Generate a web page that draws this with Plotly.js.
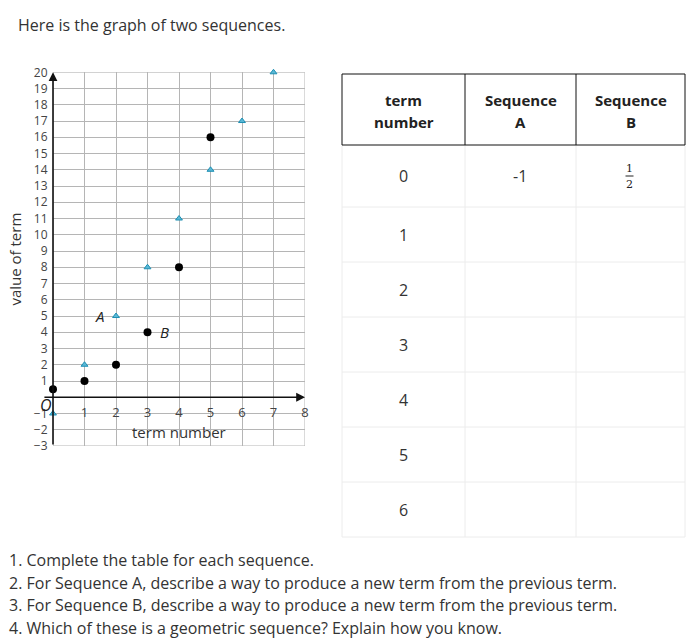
<!DOCTYPE html>
<html>
<head>
<meta charset="utf-8">
<script src="https://cdn.plot.ly/plotly-3.0.1.min.js"></script>
<style>html,body{margin:0;padding:0;background:#fff;}#chart{width:687px;height:642px;}</style>
</head>
<body>
<div id="chart"></div>
<script>
// ---- data ----
const termA = [0, 1, 2, 3, 4, 5, 6, 7];
const seqA = [-1, 2, 5, 8, 11, 14, 17, 20];
const termB = [0, 1, 2, 3, 4, 5];
const seqB = [0.5, 1, 2, 4, 8, 16];
const yTickVals = [-3, -2, -1, 1, 2, 3, 4, 5, 6, 7, 8, 9, 10, 11, 12, 13, 14, 15, 16, 17, 18, 19, 20];
const yTickText = ['\u22123', '\u22122', '\u22121', '1', '2', '3', '4', '5', '6', '7', '8', '9', '10', '11', '12', '13', '14', '15', '16', '17', '18', '19', '20'];
const xTickVals = [1, 2, 3, 4, 5, 6, 7, 8];
const xTickText = ['1', '2', '3', '4', '5', '6', '7', '8'];
const tableHeadLine1 = ['term', 'Sequence', 'Sequence'];
const tableHeadLine2 = ['number', 'A', 'B'];
const tableTerms = ['0', '1', '2', '3', '4', '5', '6'];
const tableSeqA = ['-1', '', '', '', '', '', ''];
const tableSeqB = [['1', '2'], null, null, null, null, null, null]; // fraction numerator/denominator
const heading = 'Here is the graph of two sequences.';
const questions = [
  '1. Complete the table for each sequence.',
  '2. For Sequence A, describe a way to produce a new term from the previous term.',
  '3. For Sequence B, describe a way to produce a new term from the previous term.',
  '4. Which of these is a geometric sequence? Explain how you know.'
];

// ---- layout helpers ----
const W = 687, H = 642;
const px = x => x / W;
const py = y => 1 - y / H;
const FONT = 'Open Sans, Noto Sans, sans-serif';
const TXT = '#333';

const traces = [
  {x: termA, y: seqA, type: 'scatter', mode: 'markers', name: 'A',
   marker: {symbol: 'triangle-up', size: 6, color: '#5ab8d6', line: {color: '#1d8fb3', width: 1}},
   cliponaxis: false, hoverinfo: 'x+y'},
  {x: termB, y: seqB, type: 'scatter', mode: 'markers', name: 'B',
   marker: {symbol: 'circle', size: 8, color: '#000'},
   cliponaxis: false, hoverinfo: 'x+y'}
];

const annotations = [];
const shapes = [];
function paperText(x, y, text, font, xanchor) {
  annotations.push({x: px(x), y: py(y), xref: 'paper', yref: 'paper', xanchor: xanchor || 'center',
    yanchor: 'middle', text: text, showarrow: false, font: font});
}

// axes arrows
annotations.push({x: 8, y: 0, ax: -0.32, ay: 0, xref: 'x', yref: 'y', axref: 'x', ayref: 'y',
  text: '', showarrow: true, arrowhead: 2, arrowsize: 1.1, arrowwidth: 1.6, arrowcolor: '#111', standoff: 0});
annotations.push({x: 0, y: 20, ax: 0, ay: -3, xref: 'x', yref: 'y', axref: 'x', ayref: 'y',
  text: '', showarrow: true, arrowhead: 2, arrowsize: 1.1, arrowwidth: 1.6, arrowcolor: '#111', standoff: 0});
// origin label
paperText(46, 405, '<i>O</i>', {family: FONT, size: 16, color: '#222'});
// series labels
annotations.push({x: 1.47, y: 5.0, xref: 'x', yref: 'y', xanchor: 'center', yanchor: 'middle', text: '<i>A</i>', showarrow: false,
  font: {family: FONT, size: 15, color: '#222'}});
annotations.push({x: 3.53, y: 4.0, xref: 'x', yref: 'y', xanchor: 'center', yanchor: 'middle', text: '<i>B</i>', showarrow: false,
  font: {family: FONT, size: 15, color: '#222'}});
// x axis title
annotations.push({x: 4, y: -2.15, xref: 'x', yref: 'y', xanchor: 'center', yanchor: 'middle', text: 'term number', showarrow: false,
  font: {family: FONT, size: 15, color: TXT}});

// heading and questions
paperText(16, 25, heading, {family: FONT, size: 16, color: TXT}, 'left');
const qY = [560, 582.5, 605, 627.5];
questions.forEach((q, i) => paperText(7, qY[i], q, {family: FONT, size: 16, color: TXT}, 'left'));

// table
const colEdges = [342, 465, 576, 685];
const headTop = 74, headBot = 145;
const rowEdges = [145, 207, 262, 317, 372, 427, 482, 537];
const lightLine = {color: '#ececec', width: 1};
rowEdges.slice(1).forEach(y => shapes.push({type: 'line', xref: 'paper', yref: 'paper',
  x0: px(colEdges[0]), x1: px(colEdges[3]), y0: py(y), y1: py(y), line: lightLine}));
colEdges.forEach(x => shapes.push({type: 'line', xref: 'paper', yref: 'paper',
  x0: px(x), x1: px(x), y0: py(headBot), y1: py(rowEdges[rowEdges.length - 1]), line: lightLine}));
shapes.push({type: 'rect', xref: 'paper', yref: 'paper', x0: px(colEdges[0]), x1: px(colEdges[3]),
  y0: py(headBot), y1: py(headTop), line: {color: '#111', width: 1}});
[colEdges[1], colEdges[2]].forEach(x => shapes.push({type: 'line', xref: 'paper', yref: 'paper',
  x0: px(x), x1: px(x), y0: py(headBot), y1: py(headTop), line: {color: '#111', width: 1}}));
const colCenters = [0, 1, 2].map(i => (colEdges[i] + colEdges[i + 1]) / 2);
for (let c = 0; c < 3; c++) {
  paperText(colCenters[c], 100, '<b>' + tableHeadLine1[c] + '</b>', {family: FONT, size: 15, color: '#222'});
  paperText(colCenters[c], 122, '<b>' + tableHeadLine2[c] + '</b>', {family: FONT, size: 15, color: '#222'});
}
for (let r = 0; r < tableTerms.length; r++) {
  const yc = (rowEdges[r] + rowEdges[r + 1]) / 2;
  paperText(colCenters[0], yc, tableTerms[r], {family: FONT, size: 16, color: TXT});
  if (tableSeqA[r]) paperText(colCenters[1] - 1, yc, tableSeqA[r], {family: FONT, size: 16, color: TXT});
  if (tableSeqB[r]) {
    const [num, den] = tableSeqB[r];
    paperText(colCenters[2] - 1, yc - 7.5, num, {family: 'DejaVu Serif, serif', size: 11, color: '#222'});
    paperText(colCenters[2] - 1, yc + 8, den, {family: 'DejaVu Serif, serif', size: 11, color: '#222'});
    shapes.push({type: 'line', xref: 'paper', yref: 'paper', x0: px(colCenters[2] - 5), x1: px(colCenters[2] + 3),
      y0: py(yc), y1: py(yc), line: {color: '#222', width: 1}});
  }
}

const layout = {
  width: W, height: H,
  margin: {l: 0, r: 0, t: 0, b: 0},
  paper_bgcolor: '#fff', plot_bgcolor: '#fff',
  showlegend: false,
  font: {family: FONT, color: TXT},
  xaxis: {
    domain: [px(53), px(305)], range: [0, 8], anchor: 'free', position: py(397),
    tickvals: xTickVals, ticktext: xTickText, ticks: 'outside', ticklen: 3, tickcolor: 'rgba(0,0,0,0)',
    tickfont: {family: FONT, size: 13, color: '#444'},
    showgrid: true, gridcolor: '#b5b5b5', gridwidth: 1, zeroline: false, showline: false,
    fixedrange: true
  },
  yaxis: {
    domain: [py(446), py(72.3)], range: [-3, 20],
    tickvals: yTickVals, ticktext: yTickText, ticks: 'outside', ticklen: 2, tickcolor: 'rgba(0,0,0,0)',
    tickfont: {family: FONT, size: 12, color: '#444'},
    showgrid: true, gridcolor: '#b5b5b5', gridwidth: 1, zeroline: false, showline: false,
    title: {text: 'value of term', font: {family: FONT, size: 15, color: TXT}, standoff: 8},
    fixedrange: true
  },
  annotations: annotations,
  shapes: shapes
};
shapes.push({type: 'rect', xref: 'x', yref: 'y', x0: 0, x1: 8, y0: -3, y1: 20, line: {color: '#b5b5b5', width: 1}, layer: 'below'});

Plotly.newPlot('chart', traces, layout, {displayModeBar: false, staticPlot: true});
</script>
</body>
</html>
